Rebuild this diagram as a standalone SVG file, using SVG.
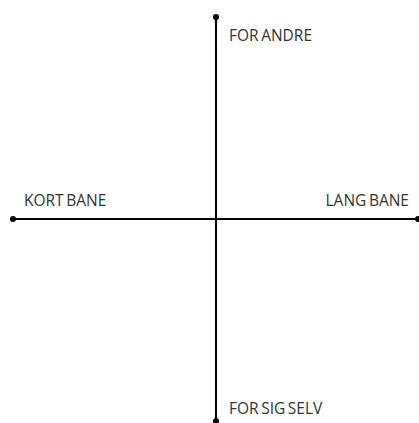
<svg xmlns="http://www.w3.org/2000/svg" width="419" height="423" viewBox="0 0 419 423">
<style>
.ax{stroke:#000;stroke-width:2;fill:none}
.dot{fill:#000}
.lbl{font-family:"Open Sans","Noto Sans",sans-serif;font-size:15.5px;fill:#333;font-weight:400;word-spacing:-1.5px}
</style>
<rect width="419" height="423" fill="#fff"/>
<g id="connectors">
<line class="ax" x1="216" y1="17" x2="216" y2="421"/>
<line class="ax" x1="13" y1="219" x2="418" y2="219"/>
</g>
<g id="top"><circle class="dot" cx="216" cy="17" r="3"/><text class="lbl" x="229" y="41">FOR ANDRE</text></g>
<g id="bottom"><circle class="dot" cx="216" cy="421" r="3"/><text class="lbl" x="229" y="414">FOR SIG SELV</text></g>
<g id="left"><circle class="dot" cx="13" cy="219" r="3"/><text class="lbl" x="24" y="206">KORT BANE</text></g>
<g id="right"><circle class="dot" cx="418" cy="219" r="3"/><text class="lbl" x="409" y="206" text-anchor="end">LANG BANE</text></g>
</svg>
